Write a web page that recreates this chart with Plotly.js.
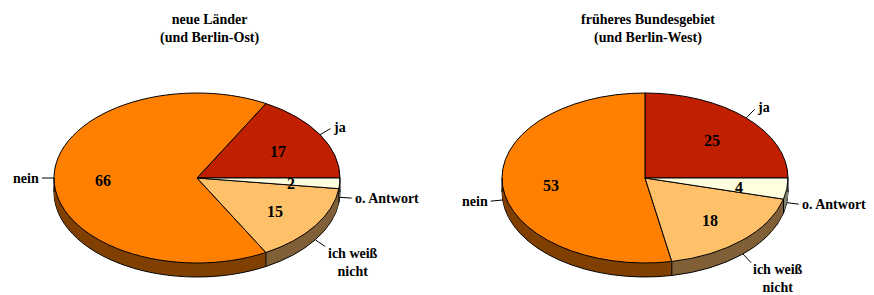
<!DOCTYPE html>
<html><head><meta charset="utf-8">
<script src="https://cdn.plot.ly/plotly-3.0.1.min.js"></script>
<style>html,body{margin:0;padding:0;background:#fff}#chart{width:874px;height:295px}</style>
</head><body><div id="chart"></div>
<script>
// ---- data ----
const categories = ['ja', 'nein', 'ich weiß nicht', 'o. Antwort'];
const labelTexts = ['ja', 'nein', 'ich weiß<br>nicht', 'o. Antwort'];
const valuesOst = [17, 66, 15, 2];
const valuesWest = [25, 53, 18, 4];
const titleOst = 'neue Länder<br>(und Berlin-Ost)';
const titleWest = 'früheres Bundesgebiet<br>(und Berlin-West)';
const topColors = ['#C02000', '#FF8000', '#FFC06A', '#FFFFE0'];
const sideColors = ['#601000', '#804000', '#806038', '#808070'];

// ---- layout geometry ----
const W = 874, H = 295;
const FONT = 'Liberation Serif, Times New Roman, serif';
const pies = [
  {values: valuesOst, title: titleOst, cx: 197, cy: 178, rx: 143, ry: 85, depth: 14, titleX: 210},
  {values: valuesWest, title: titleWest, cx: 645, cy: 178, rx: 143, ry: 85, depth: 14, titleX: 648}
];
const R = 100;

const traces = [];
const meta = [];
pies.forEach((p, pi) => {
  const total = p.values.reduce((a, b) => a + b, 0);
  // first slice (ja) should start at 3 o'clock and run counterclockwise
  const rot = 90 - 360 * p.values[0] / total;
  const domain = {x: [(p.cx - R) / W, (p.cx + R) / W], y: [1 - (p.cy + R) / H, 1 - (p.cy - R) / H]};
  const base = {type: 'pie', labels: categories, values: p.values, sort: false,
    direction: 'counterclockwise', rotation: rot, textinfo: 'none', hoverinfo: 'skip',
    showlegend: false, domain: domain};
  for (let k = p.depth; k >= 1; k--) {
    traces.push(Object.assign({}, base, {marker: {colors: sideColors,
      line: {color: '#000', width: k === p.depth ? 1 : 0}}}));
    meta.push({pi: pi, off: k});
  }
  traces.push(Object.assign({}, base, {marker: {colors: topColors, line: {color: '#000', width: 1}}}));
  meta.push({pi: pi, off: 0});
});

const annotations = [];
const shapes = [];
const px = x => x / W, py = y => 1 - y / H;
const deg = Math.PI / 180;

pies.forEach(p => {
  annotations.push({xref: 'paper', yref: 'paper', x: px(p.titleX), y: py(29), text: p.title,
    showarrow: false, xanchor: 'center', yanchor: 'middle', align: 'center',
    font: {family: FONT, size: 14, color: '#000', weight: 700}});
  const total = p.values.reduce((a, b) => a + b, 0);
  let acc = 0;
  const edge = th => [p.cx + p.rx * Math.cos(th), p.cy - p.ry * Math.sin(th)];
  // side edges at the extremes
  [0, Math.PI].forEach(th => {
    const e = edge(th);
    shapes.push({type: 'line', xref: 'paper', yref: 'paper', x0: px(e[0]), y0: py(e[1]), x1: px(e[0]), y1: py(e[1] + p.depth), line: {color: '#000', width: 1}});
  });
  p.values.forEach((v, i) => {
    const a0 = acc / total * 360, a1 = (acc + v) / total * 360;
    acc += v;
    const mid = (a0 + a1) / 2 * deg;
    const c = Math.cos(mid), s = Math.sin(mid);
    // seam on the visible side wall
    const b = a1 * deg;
    if (Math.sin(b) < -0.02) {
      const e = edge(b);
      shapes.push({type: 'line', xref: 'paper', yref: 'paper', x0: px(e[0]), y0: py(e[1]), x1: px(e[0]), y1: py(e[1] + p.depth), line: {color: '#000', width: 1}});
    }
    // value inside
    annotations.push({xref: 'paper', yref: 'paper', x: px(p.cx + 0.66 * p.rx * c), y: py(p.cy - 0.66 * p.ry * s + 2),
      text: String(v), showarrow: false, xanchor: 'center', yanchor: 'middle',
      font: {family: FONT, size: 16, color: '#000', weight: 700}});
    // leader line + label
    const e = edge(mid);
    const ax = e[0], ay = e[1] + (s < 0 ? p.depth : 0);
    const L = 12;
    const ex = ax + c * L, ey = ay - s * L;
    shapes.push({type: 'line', xref: 'paper', yref: 'paper', x0: px(ax), y0: py(ay), x1: px(ex), y1: py(ey), line: {color: '#000', width: 1}});
    const xa = c > 0.3 ? 'left' : (c < -0.3 ? 'right' : 'center');
    const ya = s < -0.3 ? 'top' : (s > 0.8 ? 'bottom' : 'middle');
    const lift = ya === 'top' ? 3 : 0;
    annotations.push({xref: 'paper', yref: 'paper', x: px(ex + c * 2), y: py(ey - s * 2 - lift),
      text: labelTexts[i], showarrow: false, xanchor: xa, yanchor: ya, align: 'center', borderpad: 0,
      font: {family: FONT, size: 14, color: '#000', weight: 700}});
  });
});

const layout = {width: W, height: H, margin: {l: 0, r: 0, t: 0, b: 0},
  paper_bgcolor: '#fff', plot_bgcolor: '#fff', showlegend: false,
  annotations: annotations, shapes: shapes};

const gd = document.getElementById('chart');
Plotly.newPlot(gd, traces, layout, {staticPlot: true, displayModeBar: false}).then(() => {
  const groups = gd.querySelectorAll('.pielayer g.trace');
  groups.forEach(g => {
    const cd = g.__data__;
    if (!cd || !cd[0]) return;
    const idx = cd[0].trace.index;
    const m = meta[idx];
    const p = pies[m.pi];
    const cx = (cd[0].cx !== undefined) ? cd[0].cx : p.cx;
    const cy = (cd[0].cy !== undefined) ? cd[0].cy : p.cy;
    const r = cd[0].r || R;
    g.setAttribute('transform', 'translate(' + p.cx + ',' + (p.cy + m.off) + ') scale(' + (p.rx / r) + ',' + (p.ry / r) + ') translate(' + (-cx) + ',' + (-cy) + ')');
    g.querySelectorAll('path').forEach(path => path.setAttribute('vector-effect', 'non-scaling-stroke'));
  });
});
</script>
</body></html>
